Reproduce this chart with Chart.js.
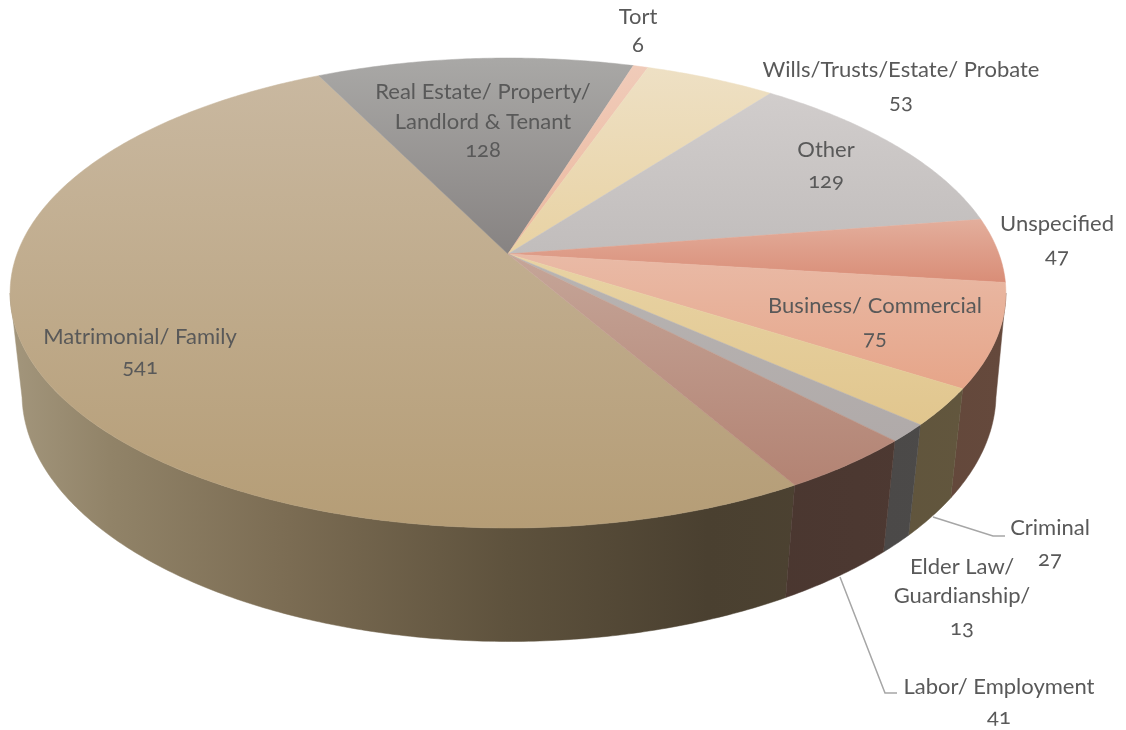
<!DOCTYPE html>
<html lang="en">
<head>
  <meta charset="UTF-8">
  <title>Cases by practice area</title>
  <script src="https://cdn.jsdelivr.net/npm/chart.js"></script>
  <style>
    html, body { margin: 0; background: #fff; }
    canvas { display: block; font-family: Lato; font-feature-settings: "onum"; font-variant-numeric: oldstyle-nums; }
  </style>
</head>
<body>
  <canvas id="pie" width="1126" height="730"></canvas>
  <script>
    const categories = ['Matrimonial/ Family', 'Real Estate/ Property/ Landlord & Tenant', 'Tort',
      'Wills/Trusts/Estate/ Probate', 'Other', 'Unspecified', 'Business/ Commercial', 'Criminal',
      'Elder Law/ Guardianship/', 'Labor/ Employment'];
    const caseCounts = [541, 128, 6, 53, 129, 47, 75, 27, 13, 41];

    // top face gradient, far edge to near edge
    const farColors = ['#c9b8a0', '#a9a8a6', '#f0cbb9', '#eee0c4', '#d1cdcc', '#e3ae9c', '#e9baa6', '#e8d3a4', '#b8b4b2', '#c5a598'];
    const nearColors = ['#b59d76', '#878382', '#ebb89e', '#e8d2a3', '#c1bdbc', '#d98d77', '#e6a589', '#e1c68e', '#b0aaa9', '#b38373'];

    // how the side wall darkens from left to right, the left end is also a bit washed out
    const wallStops = [0, 0.1, 0.28, 0.5, 0.7, 1];
    const wallShade = [0.9, 0.8, 0.68, 0.52, 0.41, 0.44];
    const wallHaze = [18, 10, 3, 0, 0, 0];

    const labelLines = [['Matrimonial/ Family'], ['Real Estate/ Property/', 'Landlord & Tenant'], ['Tort'],
      ['Wills/Trusts/Estate/ Probate'], ['Other'], ['Unspecified'], ['Business/ Commercial'], ['Criminal'],
      ['Elder Law/', 'Guardianship/'], ['Labor/ Employment']];
    const labelX = [140, 483, 638, 901, 826, 1057, 875, 1050, 962, 999];
    const labelY = [[337, 367], [92, 122, 150], [17, 45], [70, 102], [150, 181], [224, 256], [306, 338], [528, 559], [567, 596, 628], [687, 717]];

    const leaders = [
      [[933, 517], [993, 536], [1005, 536]],
      [[840, 577], [885, 693], [897, 693]]
    ];

    // perspective view of the disc, top and bottom planes
    const topPlane = { x: 508, y: 254, bx: 491, ay: 228.5, k: 0.166 };
    const bottomPlane = { x: 509, y: 356.3, bx: 481.5, ay: 242.4, k: 0.15 };

    // walls only show along the near side of the disc
    const wallFrom = Math.asin(topPlane.k);
    const wallTo = Math.PI - wallFrom;

    function project(plane, angle) {
      const u = Math.cos(angle), v = Math.sin(angle);
      const w = 1 - plane.k * v;
      return [plane.x + plane.bx * u / w, plane.y + plane.ay * v / w];
    }

    function arcPoints(plane, start, end) {
      const n = Math.max(2, Math.ceil((end - start) / 0.01));
      const pts = [];
      for (let i = 0; i <= n; i++) pts.push(project(plane, start + (end - start) * i / n));
      return pts;
    }

    function tracePath(ctx, pts) {
      ctx.beginPath();
      pts.forEach((p, i) => i ? ctx.lineTo(p[0], p[1]) : ctx.moveTo(p[0], p[1]));
      ctx.closePath();
    }

    function shadeColor(hex, f, haze) {
      const n = parseInt(hex.slice(1), 16);
      return `rgb(${Math.round((n >> 16) * f)},${Math.round(((n >> 8) & 255) * f + haze * 0.5)},${Math.round((n & 255) * f + haze)})`;
    }

    function drawWall(ctx, i, start, end) {
      const topEdge = arcPoints(topPlane, start, end);
      const bottomEdge = arcPoints(bottomPlane, start, end).reverse();
      const grad = ctx.createLinearGradient(10, 0, 1006, 0);
      wallStops.forEach((s, j) => grad.addColorStop(s, shadeColor(nearColors[i], wallShade[j], wallHaze[j])));
      tracePath(ctx, topEdge.concat(bottomEdge));
      ctx.fillStyle = grad;
      ctx.strokeStyle = grad;
      ctx.lineWidth = 0.5;
      ctx.fill();
      ctx.stroke();
    }

    const pie3d = {
      id: 'pie3d',
      beforeDatasetDraw(chart) {
        const ctx = chart.ctx;
        const arcs = chart.getDatasetMeta(0).data;
        ctx.save();

        // chart.js angles can run past a full turn, check the range twice
        arcs.forEach((arc, i) => {
          [0, Math.PI * 2].forEach(turn => {
            const start = Math.max(arc.startAngle, wallFrom + turn);
            const end = Math.min(arc.endAngle, wallTo + turn);
            if (end > start) drawWall(ctx, i, start, end);
          });
        });

        arcs.forEach((arc, i) => {
          const pts = arcPoints(topPlane, arc.startAngle, arc.endAngle);
          pts.push([topPlane.x, topPlane.y]);
          const ys = pts.map(p => p[1]);
          const grad = ctx.createLinearGradient(0, Math.min(...ys), 0, Math.max(...ys));
          grad.addColorStop(0, farColors[i]);
          grad.addColorStop(1, nearColors[i]);
          tracePath(ctx, pts);
          ctx.fillStyle = grad;
          ctx.strokeStyle = grad;
          ctx.lineWidth = 0.5;
          ctx.fill();
          ctx.stroke();
        });

        ctx.restore();
        return false;
      },
      afterDraw(chart) {
        const ctx = chart.ctx;
        ctx.save();
        ctx.strokeStyle = '#a6a6a6';
        ctx.lineWidth = 1.5;
        leaders.forEach(line => {
          ctx.beginPath();
          line.forEach((p, i) => i ? ctx.lineTo(p[0], p[1]) : ctx.moveTo(p[0], p[1]));
          ctx.stroke();
        });

        ctx.font = '22px Lato';
        ctx.fillStyle = '#595959';
        ctx.textAlign = 'center';
        ctx.textBaseline = 'middle';
        caseCounts.forEach((count, i) => {
          const rows = labelLines[i].concat(String(count));
          rows.forEach((text, j) => ctx.fillText(text, labelX[i], labelY[i][j]));
        });
        ctx.restore();
      }
    };

    new Chart(document.getElementById('pie'), {
      type: 'pie',
      data: {
        labels: categories,
        datasets: [{ data: caseCounts, backgroundColor: nearColors, borderWidth: 0 }]
      },
      options: {
        responsive: false,
        animation: false,
        rotation: 150,
        plugins: { legend: { display: false }, tooltip: { enabled: false } }
      },
      plugins: [pie3d]
    });
  </script>
</body>
</html>
